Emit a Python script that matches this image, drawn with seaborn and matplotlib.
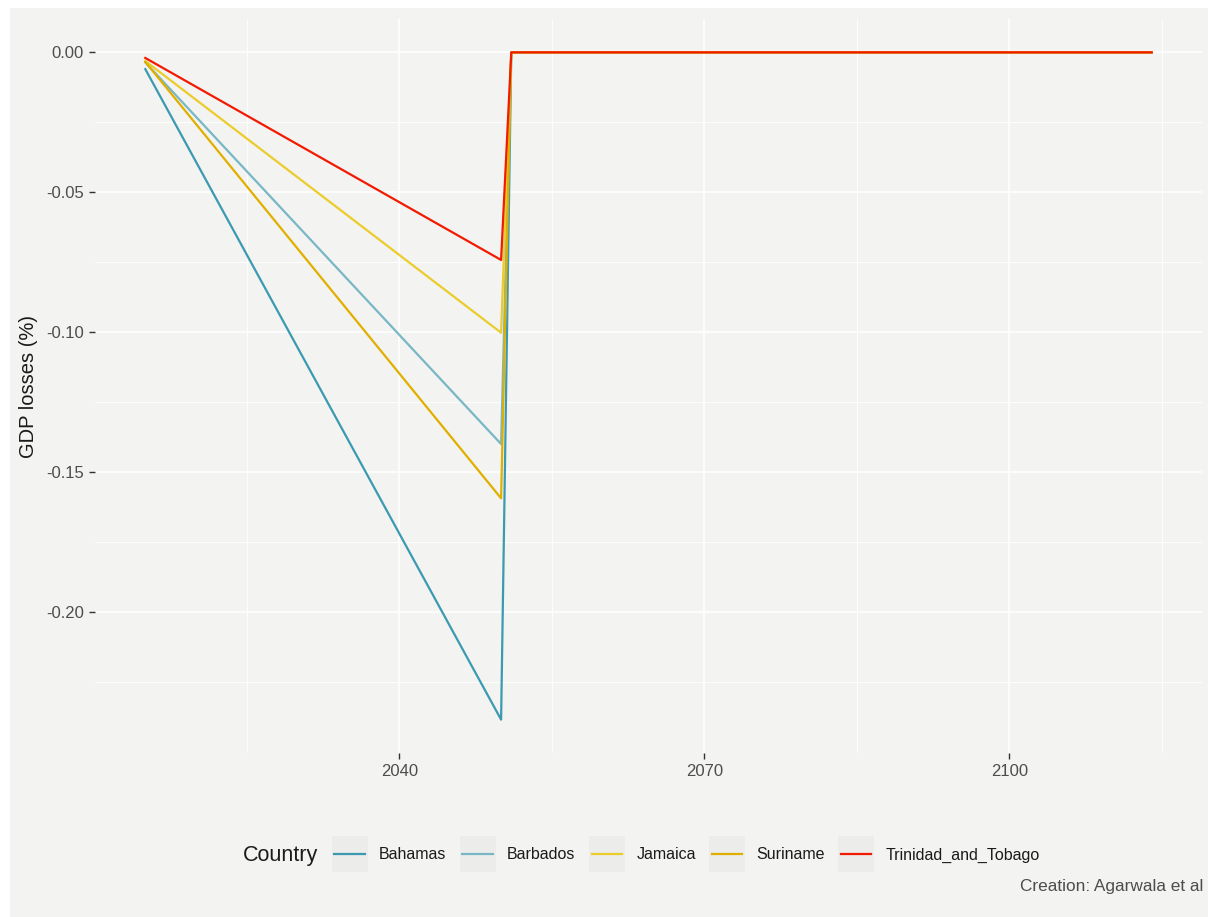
import numpy as np
import pandas as pd
import seaborn as sns
import matplotlib.pyplot as plt
from matplotlib.patches import Rectangle
from matplotlib.legend_handler import HandlerLine2D

# values (GDP losses in %, by year)
countries = ['Bahamas', 'Barbados', 'Jamaica', 'Suriname', 'Trinidad_and_Tobago']
years = [2015, 2050, 2051, 2114]
bahamas = [-0.0060, -0.2385, 0.0, 0.0]
barbados = [-0.0036, -0.1400, 0.0, 0.0]
jamaica = [-0.0031, -0.1002, 0.0, 0.0]
suriname = [-0.0034, -0.1594, 0.0, 0.0]
trinidad = [-0.0020, -0.0742, 0.0, 0.0]
colors = ['#3B9AB2', '#78B7C5', '#EBCC2A', '#E1AF00', '#F21A00']

series = [bahamas, barbados, jamaica, suriname, trinidad]
df = pd.concat([pd.DataFrame({'Year': years, 'Loss': vals, 'Country': c})
                for c, vals in zip(countries, series)])

bg = '#F3F3F1'
key_bg = '#ECECEA'
plt.rcParams['font.family'] = ['Liberation Sans', 'DejaVu Sans']


class KeyHandler(HandlerLine2D):
    # line key drawn on a light grey square, like ggplot's legend keys
    def create_artists(self, legend, orig_handle, xdescent, ydescent,
                       width, height, fontsize, trans):
        side = width + 4
        cy = -ydescent + height / 2
        rect = Rectangle((-xdescent - 2, cy - side / 2), side, side,
                         facecolor=key_bg, edgecolor='none', transform=trans)
        arts = super().create_artists(legend, orig_handle, xdescent, ydescent,
                                      width, height, fontsize, trans)
        return [rect] + list(arts)


fig = plt.figure(figsize=(12.08, 9.17), dpi=100)
fig.patch.set_facecolor(bg)
# thin white strips on the left and top edges
fig.add_artist(Rectangle((0, 0), 10 / 1208, 1, transform=fig.transFigure,
                         facecolor='white', edgecolor='none', zorder=-5))
fig.add_artist(Rectangle((0, 1 - 8 / 917), 1, 8 / 917, transform=fig.transFigure,
                         facecolor='white', edgecolor='none', zorder=-5))

ax = fig.add_axes([95 / 1208, 1 - 753 / 917, 1107 / 1208, (753 - 19) / 917])
ax.set_facecolor(bg)

sns.lineplot(data=df, x='Year', y='Loss', hue='Country', palette=colors,
             linewidth=1.6, ax=ax, legend=False)

ax.set_xticks([2040, 2070, 2100])
ax.set_xticks([2025, 2055, 2085, 2115], minor=True)
ax.set_yticks([0.0, -0.05, -0.10, -0.15, -0.20])
ax.set_yticks([-0.025, -0.075, -0.125, -0.175, -0.225], minor=True)
ax.set_yticklabels(['0.00', '-0.05', '-0.10', '-0.15', '-0.20'])

# ggplot-like expansion (set after ticks so limits stay put)
xr = years[-1] - years[0]
ax.set_xlim(years[0] - 0.05 * xr, years[-1] + 0.05 * xr)
ymin = min(min(s) for s in series)
ax.set_ylim(ymin + 0.05 * ymin, -0.05 * ymin)

ax.grid(which='major', color='white', linewidth=1.2)
ax.grid(which='minor', color='white', linewidth=0.6)
ax.set_axisbelow(True)
for s in ax.spines.values():
    s.set_visible(False)
ax.tick_params(which='major', length=4, width=1, color='#333333',
               labelsize=12, labelcolor='#4D4D4D', pad=4)
ax.tick_params(which='minor', length=0)
ax.set_xlabel('')
ax.set_ylabel('GDP losses (%)', fontsize=14.5, color='#1A1A1A', labelpad=6)

# legend at the bottom with title on the left
handles = [plt.Line2D([], [], color=c, linewidth=1.6) for c in colors]
leg = fig.legend(handles, countries, loc='center left',
                 bbox_to_anchor=(320 / 1208, 1 - 855 / 917),
                 ncol=5, frameon=False, fontsize=11.5, handlelength=1.9,
                 handletextpad=0.9, columnspacing=1.0,
                 handler_map={plt.Line2D: KeyHandler()})
for t in leg.get_texts():
    t.set_color('#1A1A1A')
fig.text(243 / 1208, 1 - 855 / 917, 'Country', fontsize=15.5, color='#1A1A1A',
         ha='left', va='center')

fig.text(1203 / 1208, 1 - 887 / 917, 'Creation: Agarwala et al', fontsize=12.4,
         color='#4D4D4D', ha='right', va='center')

fig.savefig('out.png', dpi=100, facecolor=fig.get_facecolor())
